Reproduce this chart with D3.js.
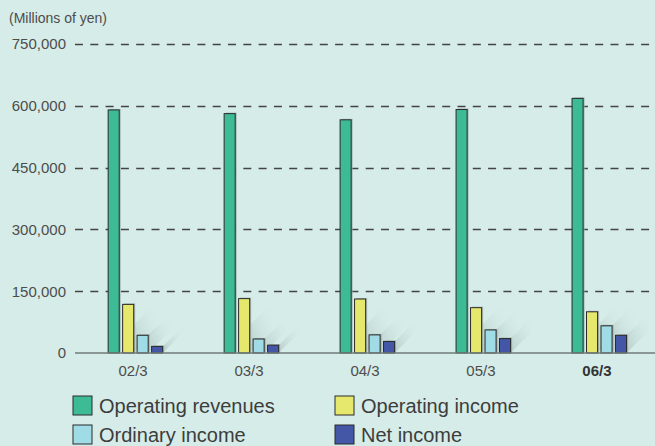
<!DOCTYPE html>
<html>
<head>
<meta charset="utf-8">
<script src="https://cdn.jsdelivr.net/npm/d3@7"></script>
<style>
  html, body { margin: 0; padding: 0; background: #d5ece8; }
  svg { display: block; font-family: "Liberation Sans", Arial, sans-serif; }
</style>
</head>
<body>
<script>
(function(){

//chart data
var years = ["02/3", "03/3", "04/3", "05/3", "06/3"];
var seriesNames = ["Operating revenues", "Operating income", "Ordinary income", "Net income"];
var operatingRevenues = [590000, 581000, 566000, 591000, 618000];
var operatingIncome = [118000, 132000, 131000, 110000, 100000];
var ordinaryIncome = [43000, 34000, 44000, 56000, 66000];
var netIncome = [16000, 19000, 28000, 35000, 43000];
var yTicks = [0, 150000, 300000, 450000, 600000, 750000];
var colors = ["#3dbb95", "#e6e86e", "#9fdce6", "#4456a6"];

var seriesValues = [operatingRevenues, operatingIncome, ordinaryIncome, netIncome];

window.onload = drawChart();

function drawChart(){

  var width = 655,
      height = 446;

  var svg = d3.select("body")
      .append("svg")
      .attr("width", width)
      .attr("height", height);

  svg.append("rect")
      .attr("width", width)
      .attr("height", height)
      .attr("fill", "#d5ece8");

  //shadow gradient for the little bars
  var defs = svg.append("defs");
  var grad = defs.append("linearGradient")
      .attr("id", "shade")
      .attr("x1", "0").attr("y1", "1")
      .attr("x2", "1").attr("y2", "0");
  grad.append("stop").attr("offset", "0%").attr("stop-color", "#8a9e9a").attr("stop-opacity", 0.4);
  grad.append("stop").attr("offset", "100%").attr("stop-color", "#d5ece8").attr("stop-opacity", 0);

  //scales
  var y = d3.scaleLinear()
      .domain([0, 750000])
      .range([353, 44]);

  var x0 = d3.scaleBand()
      .domain(years)
      .range([78, 656])
      .paddingInner(0.536)
      .paddingOuter(0.26);

  var x1 = d3.scaleBand()
      .domain(d3.range(seriesNames.length))
      .range([0, 54.5])
      .paddingInner(0.236);

  //unit label
  svg.append("text")
      .attr("x", 9)
      .attr("y", 23)
      .attr("font-size", 14)
      .attr("fill", "#4d4d4d")
      .text("(Millions of yen)");

  //dashed grid lines
  svg.selectAll(".grid")
      .data(yTicks.filter(function(d){ return d > 0; }))
      .enter()
      .append("line")
      .attr("class", "grid")
      .attr("x1", 75)
      .attr("x2", width)
      .attr("y1", function(d){ return Math.round(y(d)) + 0.5; })
      .attr("y2", function(d){ return Math.round(y(d)) + 0.5; })
      .attr("stroke", "#444")
      .attr("stroke-width", 1.4)
      .attr("stroke-dasharray", "8,7.3");

  //y axis labels
  var yAxis = d3.axisLeft(y)
      .tickValues(yTicks)
      .tickSize(0)
      .tickPadding(0)
      .tickFormat(d3.format(","));

  var yG = svg.append("g")
      .attr("transform", "translate(66,0)")
      .call(yAxis);
  yG.select(".domain").remove();
  yG.selectAll("text")
      .attr("font-size", 15)
      .attr("font-family", "Liberation Sans, Arial, sans-serif")
      .attr("fill", "#4d4d4d");

  //groups
  var groups = svg.selectAll(".year")
      .data(years)
      .enter()
      .append("g")
      .attr("class", "year")
      .attr("transform", function(d){ return "translate(" + x0(d) + ",0)"; });

  var barData = function(d, i){
    return seriesValues.map(function(s, k){ return { k: k, v: s[i] }; });
  };

  //diagonal shadows behind the smaller bars
  groups.selectAll(".shadow")
      .data(barData)
      .enter()
      .filter(function(d){ return d.k > 0; })
      .append("polygon")
      .attr("class", "shadow")
      .attr("fill", "url(#shade)")
      .attr("points", function(d){
        var xr = x1(d.k) + x1.bandwidth(),
            base = y(0),
            hs = Math.min(base - y(d.v), 28),
            L = 22;
        return [[xr, base], [xr, base - hs], [xr + L, base - hs - L], [xr + L, base - L]]
          .map(function(p){ return p.join(","); }).join(" ");
      });

  //grey edge shadow on right side
  groups.selectAll(".edge")
      .data(barData)
      .enter()
      .append("rect")
      .attr("class", "edge")
      .attr("x", function(d){ return x1(d.k) + 1.5; })
      .attr("y", function(d){ return y(d.v) - 1; })
      .attr("width", x1.bandwidth())
      .attr("height", function(d){ return y(0) - y(d.v) + 1; })
      .attr("fill", "#9aaaa6")
      .attr("opacity", 0.8);

  groups.selectAll(".bar")
      .data(barData)
      .enter()
      .append("rect")
      .attr("class", "bar")
      .attr("x", function(d){ return x1(d.k); })
      .attr("y", function(d){ return y(d.v); })
      .attr("width", x1.bandwidth())
      .attr("height", function(d){ return y(0) - y(d.v); })
      .attr("fill", function(d){ return colors[d.k]; })
      .attr("stroke", "#2a2a2a")
      .attr("stroke-width", 1);

  //baseline
  svg.append("line")
      .attr("x1", 75)
      .attr("x2", width)
      .attr("y1", y(0))
      .attr("y2", y(0))
      .attr("stroke", "#6f7c79")
      .attr("stroke-width", 1.5);

  //x axis labels
  svg.selectAll(".xlab")
      .data(years)
      .enter()
      .append("text")
      .attr("class", "xlab")
      .attr("x", function(d){ return x0(d) + x0.bandwidth() / 2 - 2; })
      .attr("y", 376)
      .attr("text-anchor", "middle")
      .attr("font-size", 15)
      .attr("font-weight", function(d, i){ return i === years.length - 1 ? "bold" : "normal"; })
      .attr("fill", function(d, i){ return i === years.length - 1 ? "#333" : "#4d4d4d"; })
      .text(function(d){ return d; });

  //legend
  var legend = svg.selectAll(".legend")
      .data(seriesNames)
      .enter()
      .append("g")
      .attr("class", "legend")
      .attr("transform", function(d, i){
        return "translate(" + (i % 2 === 0 ? 73 : 335) + "," + (i < 2 ? 396 : 425) + ")";
      });

  legend.append("rect")
      .attr("width", 19)
      .attr("height", 19)
      .attr("fill", function(d, i){ return colors[i]; })
      .attr("stroke", "#2a2a2a")
      .attr("stroke-width", 1);

  legend.append("text")
      .attr("x", 26)
      .attr("y", 17)
      .attr("font-size", 20)
      .attr("fill", "#3d3d3d")
      .text(function(d){ return d; });
};

})();
</script>
</body>
</html>
